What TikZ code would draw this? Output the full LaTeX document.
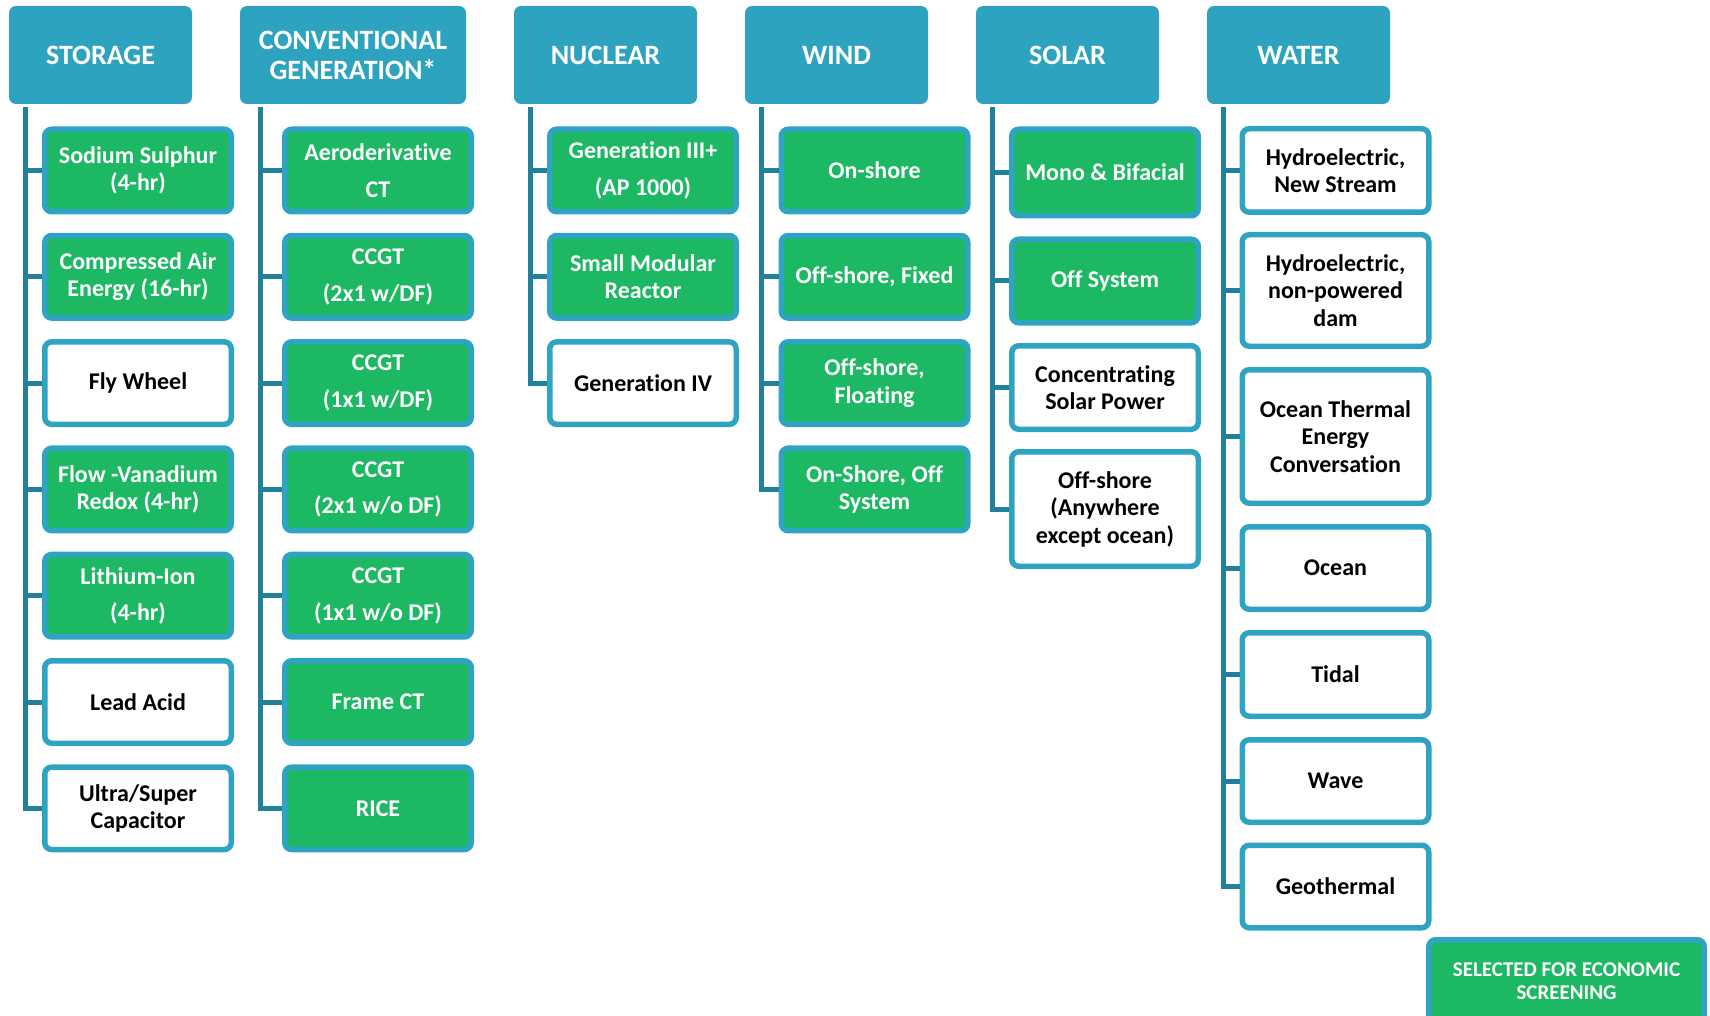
\documentclass[tikz,border=0pt]{standalone}
\usepackage{fontspec}
\setmainfont{Carlito}[Ligatures=NoCommon]
\usepackage{tikz}
\usetikzlibrary{positioning}
\usepackage{xcolor}
\definecolor{hdrblue}{HTML}{2EA3BF}
\definecolor{boxgreen}{HTML}{1DB863}
\definecolor{edgeblue}{HTML}{2FA4C2}
\definecolor{linkteal}{HTML}{23809B}

\begin{document}
\begin{tikzpicture}[x=1pt,y=-1pt,
  header/.style={fill=hdrblue, rounded corners=7pt, minimum width=183pt, minimum height=98pt,
    inner sep=0pt, text=white, align=center, font=\fontsize{28}{30}\selectfont\bfseries},
  tech/.style={draw=edgeblue, line width=5.5pt, rounded corners=7pt, minimum width=186.5pt,
    minimum height=82.5pt, inner sep=0pt, align=center, font=\fontsize{24}{27.5}\selectfont\bfseries},
  sel/.style={tech, fill=boxgreen, text=white},
  notsel/.style={tech, fill=white, text=black},
  link/.style={draw=linkteal, line width=5pt}]
  \useasboundingbox (0,0) rectangle (1710,1016);
  \clip (0,0) rectangle (1710,1016);

  % Headers
  \node[header] (storage) at (100.5,55) {STORAGE};
  \node[header, minimum width=226pt] (conv) at (353,55) {CONVENTIONAL\\GENERATION*};
  \node[header] (nuclear) at (605.5,55) {NUCLEAR};
  \node[header] (wind) at (836.5,55) {WIND};
  \node[header] (solar) at (1067.5,55) {SOLAR};
  \node[header] (water) at (1298.5,55) {WATER};

  % Storage
  \coordinate (st0) at (25,107);
  \foreach \i/\kind/\txt in {1/sel/{Sodium Sulphur\\(4-hr)}, 2/sel/{Compressed Air\\Energy (16-hr)},
      3/notsel/{Fly Wheel}, 4/sel/{Flow -Vanadium\\Redox (4-hr)}, 5/sel/{Lithium-Ion\\[9pt](4-hr)},
      6/notsel/{Lead Acid}, 7/notsel/{Ultra/Super\\Capacitor}} {
    \node[\kind] (st\i) at (138,{170.5+106.3*(\i-1)}) {\txt};
    \draw[link] (st0 |- st\i.west) -- (st\i.west);
  }
  \draw[link] (st0) |- (st7.west);

  % Conventional generation
  \coordinate (cg0) at (260,107);
  \foreach \i/\kind/\txt in {1/sel/{Aeroderivative\\[9pt]CT}, 2/sel/{CCGT\\[9pt](2x1 w/DF)},
      3/sel/{CCGT\\[9pt](1x1 w/DF)}, 4/sel/{CCGT\\[9pt](2x1 w/o DF)}, 5/sel/{CCGT\\[9pt](1x1 w/o DF)},
      6/sel/{Frame CT}, 7/sel/{RICE}} {
    \node[\kind] (cg\i) at (378,{170.5+106.3*(\i-1)}) {\txt};
    \draw[link] (cg0 |- cg\i.west) -- (cg\i.west);
  }
  \draw[link] (cg0) |- (cg7.west);

  % Nuclear
  \coordinate (nu0) at (530,107);
  \foreach \i/\kind/\txt in {1/sel/{Generation III+\\[9pt](AP 1000)}, 2/sel/{Small Modular\\Reactor},
      3/notsel/{Generation IV}} {
    \node[\kind] (nu\i) at (643,{170.5+106.3*(\i-1)}) {\txt};
    \draw[link] (nu0 |- nu\i.west) -- (nu\i.west);
  }
  \draw[link] (nu0) |- (nu3.west);

  % Wind
  \coordinate (wi0) at (761,107);
  \foreach \i/\kind/\txt in {1/sel/{On-shore}, 2/sel/{Off-shore, Fixed},
      3/sel/{Off-shore,\\Floating}, 4/sel/{On-Shore, Off\\System}} {
    \node[\kind] (wi\i) at (874.5,{170.5+106.3*(\i-1)}) {\txt};
    \draw[link] (wi0 |- wi\i.west) -- (wi\i.west);
  }
  \draw[link] (wi0) |- (wi4.west);

  % Solar
  \coordinate (so0) at (992,107);
  \foreach \i/\y/\h/\kind/\txt in {1/172.5/86.5/sel/{Mono \& Bifacial}, 2/281/83.5/sel/{Off System},
      3/387.5/83.5/notsel/{Concentrating\\Solar Power}, 4/509/114.5/notsel/{Off-shore\\(Anywhere\\except ocean)}} {
    \node[\kind, minimum height=\h pt] (so\i) at (1105,\y) {\txt};
    \draw[link] (so0 |- so\i.west) -- (so\i.west);
  }
  \draw[link] (so0) |- (so4.west);

  % Water
  \coordinate (wa0) at (1223,107);
  \foreach \i/\y/\h/\txt in {1/170.5/83.5/{Hydroelectric,\\New Stream},
      2/290.5/111.5/{Hydroelectric,\\non-powered\\dam}, 3/436.5/133.5/{Ocean Thermal\\Energy\\Conversation},
      4/568/82.5/{Ocean}, 5/674.5/83.5/{Tidal}, 6/781/82.5/{Wave}, 7/886.5/82.5/{Geothermal}} {
    \node[notsel, minimum height=\h pt] (wa\i) at (1335.5,\y) {\txt};
    \draw[link] (wa0 |- wa\i.west) -- (wa\i.west);
  }
  \draw[link] (wa0) |- (wa7.west);

  % Key
  \node[sel, minimum width=275.5pt, font=\fontsize{21}{23}\selectfont\bfseries] (key) at (1566.5,981)
    {SELECTED FOR ECONOMIC\\SCREENING};
\end{tikzpicture}
\end{document}
